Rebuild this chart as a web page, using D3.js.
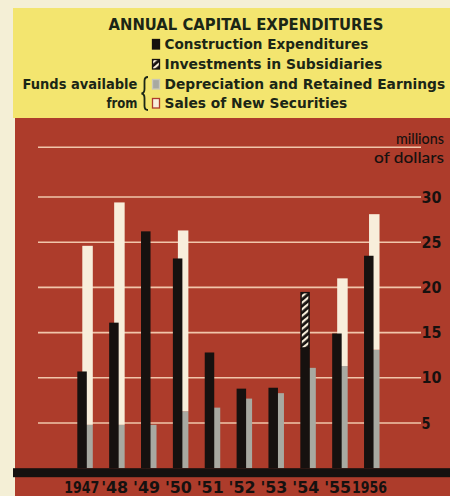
<!DOCTYPE html>
<html>
<head>
<meta charset="utf-8">
<script src="https://cdn.jsdelivr.net/npm/d3@7"></script>
<style>
  html, body { margin: 0; padding: 0; background: #f4efd6; }
  svg { display: block; }
</style>
</head>
<body>
<svg id="chart" width="450" height="496"></svg>
<script>
// ---- data (millions of dollars) ----
const years = ["1947", "'48", "'49", "'50", "'51", "'52", "'53", "'54", "'55", "1956"];
const construction = [10.7, 16.1, 26.2, 23.2, 12.8, 8.8, 8.9, 13.3, 14.9, 23.5];
const investments  = [0, 0, 0, 0, 0, 0, 0, 6.2, 0, 0];
const depreciation = [4.8, 4.8, 4.8, 6.3, 6.7, 7.7, 8.3, 11.1, 11.3, 13.1];
const sales        = [19.8, 24.6, 0, 20.0, 0, 0, 0, 0, 9.7, 15.0];
const yTicks = [5, 10, 15, 20, 25, 30];
const unitLine = [35.5];
const title = "ANNUAL CAPITAL EXPENDITURES";
const legendItems = ["Construction Expenditures", "Investments in Subsidiaries",
                     "Depreciation and Retained Earnings", "Sales of New Securities"];

const C = {
  cream: "#f4efd6", yellow: "#f3e56f", red: "#ad3c2b", ink: "#1b2616",
  black: "#16110f", gray: "#a8a9a1", white: "#f8eedb", grid: "#f1c6ab"
};
const BOLD = "'DejaVu Sans', sans-serif";
const REG = "Lato, 'Open Sans', sans-serif";

const svg = d3.select("#chart");

// draws a text squeezed horizontally to a given width
function fitText(parent, str, x, y, w, anchor, font, weight, size, fill) {
  const g = parent.append("g");
  const t = g.append("text").attr("x", 0).attr("y", 0)
    .attr("font-family", font).attr("font-weight", weight).attr("font-size", size)
    .attr("fill", fill).text(str);
  const len = t.node().getComputedTextLength() || w;
  const k = w / len;
  const x0 = anchor === "end" ? x - w : anchor === "middle" ? x - w / 2 : x;
  g.attr("transform", `translate(${x0},${y}) scale(${k},1)`);
  return g;
}

const defs = svg.append("defs");
const pat = defs.append("pattern").attr("id", "hatch").attr("patternUnits", "userSpaceOnUse")
  .attr("width", 5).attr("height", 5).attr("patternTransform", "rotate(-40)");
pat.append("rect").attr("width", 5).attr("height", 5).attr("fill", C.black);
pat.append("rect").attr("width", 5).attr("height", 2.2).attr("fill", C.white);

// backgrounds
svg.append("rect").attr("width", 450).attr("height", 496).attr("fill", C.cream);
svg.append("rect").attr("x", 13).attr("y", 8).attr("width", 437).attr("height", 110).attr("fill", C.yellow);
svg.append("rect").attr("x", 15).attr("y", 118).attr("width", 435).attr("height", 378).attr("fill", C.red);

// scales
const x = d3.scaleBand().domain(years).range([77.3, 77.3 + 31.86 * years.length]).padding(0);
const y = d3.scaleLinear().domain([0, 30]).range([468.2, 197]);

// gridlines
const gx0 = 38, gx1 = 421;
svg.append("g").selectAll("line").data(yTicks.concat(unitLine)).join("line")
  .attr("x1", gx0).attr("x2", gx1)
  .attr("y1", d => y(d)).attr("y2", d => y(d))
  .attr("stroke", C.grid).attr("stroke-width", 1.6);

// y tick labels
const yl = svg.append("g");
yTicks.forEach(d => fitText(yl, String(d), gx1 + 0.5, y(d) + 5.5,
  String(d).length === 1 ? 9 : 20, "start", BOLD, 700, 15, C.black));

// units
fitText(svg, "millions", 444, 144, 48, "end", REG, 500, 16, C.black);
fitText(svg, "of  dollars", 444, 163, 70, "end", REG, 500, 16, C.black);

// funds bars (depreciation + sales stacked), behind
const idx = d3.range(years.length);
const back = svg.append("g");
back.selectAll("rect.dep").data(idx).join("rect").attr("class", "dep")
  .attr("x", i => x(years[i]) + 5).attr("width", 10.5)
  .attr("y", i => y(depreciation[i])).attr("height", i => y(0) - y(depreciation[i]))
  .attr("fill", C.gray);
back.selectAll("rect.sal").data(idx.filter(i => sales[i] > 0)).join("rect").attr("class", "sal")
  .attr("x", i => x(years[i]) + 5).attr("width", 10.5)
  .attr("y", i => y(depreciation[i] + sales[i])).attr("height", i => y(depreciation[i]) - y(depreciation[i] + sales[i]))
  .attr("fill", C.white);

// expenditure bars, front
const front = svg.append("g");
front.selectAll("rect.con").data(idx).join("rect").attr("class", "con")
  .attr("x", i => x(years[i])).attr("width", 9.5)
  .attr("y", i => y(construction[i])).attr("height", i => y(0) - y(construction[i]))
  .attr("fill", C.black);
front.selectAll("rect.inv").data(idx.filter(i => investments[i] > 0)).join("rect").attr("class", "inv")
  .attr("x", i => x(years[i]) + 0.75).attr("width", 8)
  .attr("y", i => y(construction[i] + investments[i]) + 0.75)
  .attr("height", i => y(construction[i]) - y(construction[i] + investments[i]) - 0.75)
  .attr("fill", "url(#hatch)").attr("stroke", C.black).attr("stroke-width", 1.5);

// baseline band
svg.append("rect").attr("x", 13).attr("y", y(0)).attr("width", 437).attr("height", 9).attr("fill", C.black);

// x labels
const xl = svg.append("g");
years.forEach(d => fitText(xl, d, x(d) + 5.5 - (d === "1947" ? 1 : 0), 493,
  d.length === 4 ? 35 : 27, "middle", BOLD, 700, 15.5, C.black));

// title & legend
fitText(svg, title, 108.5, 29.5, 275, "start", BOLD, 700, 15, C.ink);

const rowY = [49, 69, 89, 108];
const textW = [204, 218, 281, 183];
const lg = svg.append("g");
legendItems.forEach((d, i) => fitText(lg, d, 164.5, rowY[i], textW[i], "start", BOLD, 700, 14.5, C.ink));
const swFill = [C.black, "url(#hatch)", C.gray, C.white];
const swStroke = [C.black, C.black, "#c9c8b8", C.red];
lg.selectAll("rect").data(legendItems).join("rect")
  .attr("x", 152.5).attr("y", (d, i) => rowY[i] - 9.5).attr("width", 7).attr("height", 9.5)
  .attr("fill", (d, i) => swFill[i]).attr("stroke", (d, i) => swStroke[i]).attr("stroke-width", 1.3);

fitText(svg, "Funds  available", 137.5, 89, 115, "end", BOLD, 700, 14.5, C.ink);
fitText(svg, "from", 137.5, 108, 31, "end", BOLD, 700, 14.5, C.ink);

// brace
svg.append("path")
  .attr("d", "M148,77 Q144.5,77 144.5,81 L144.5,89 Q144.5,93 141.5,93.5 Q144.5,94 144.5,98 L144.5,106 Q144.5,110 148,110")
  .attr("fill", "none").attr("stroke", C.ink).attr("stroke-width", 1.8);
</script>
</body>
</html>
